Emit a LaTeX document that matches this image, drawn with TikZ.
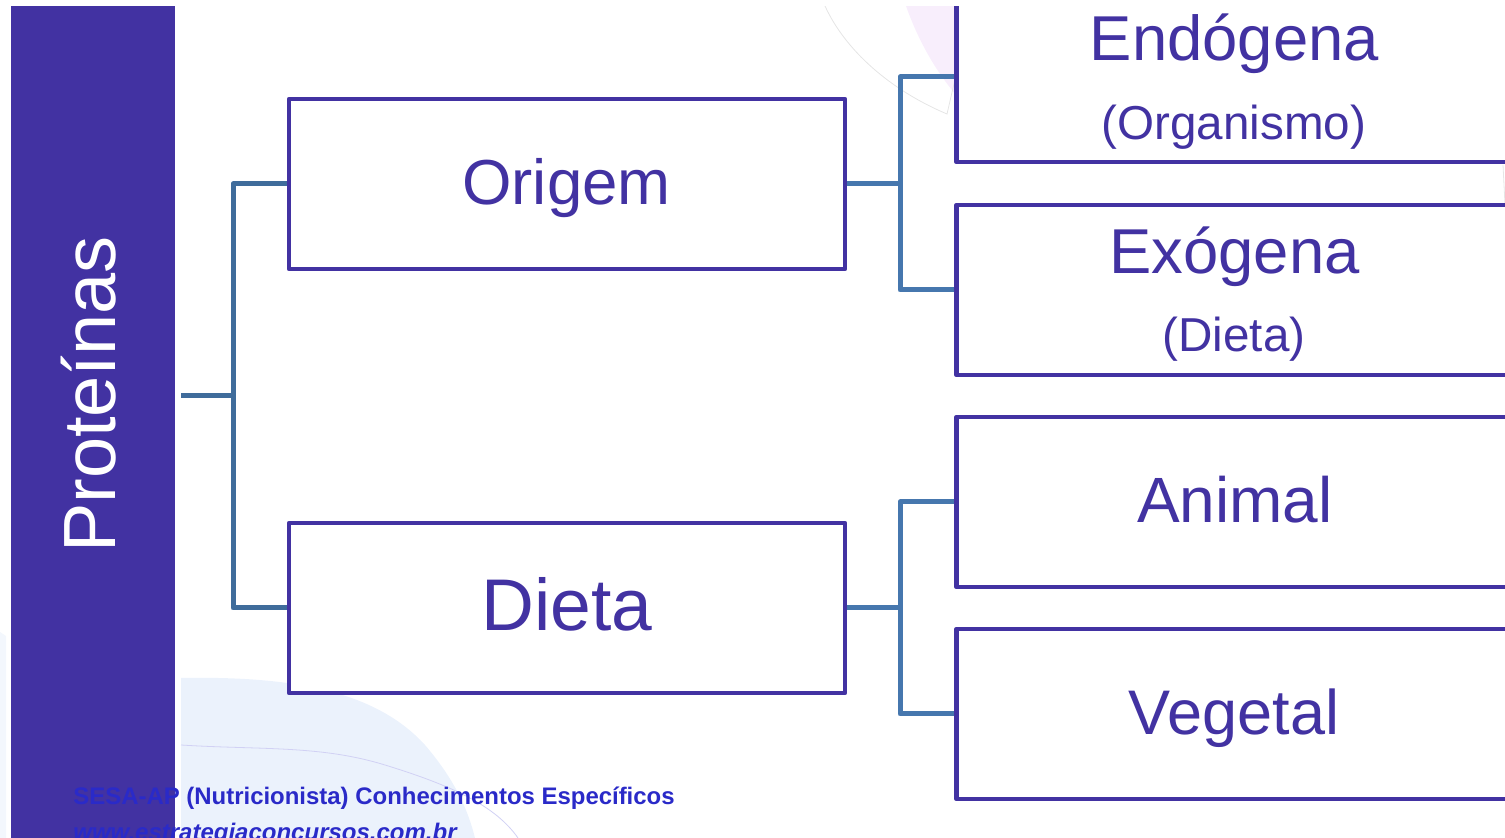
\documentclass[tikz,border=0pt]{standalone}
\usepackage{fontspec}
\setmainfont{Liberation Sans}
\definecolor{ink}{HTML}{4232A2}
\definecolor{busA}{HTML}{3F6C9B}
\definecolor{busB}{HTML}{4677AE}
\definecolor{foot}{HTML}{2A2AC8}
\definecolor{blob}{HTML}{EBF2FC}
\definecolor{blush}{HTML}{F8EEFC}
\tikzset{
  box/.style={draw=ink,line width=2.3pt,fill=white,minimum width=278pt,minimum height=85pt,inner sep=0pt,outer sep=0pt,line join=round,anchor=north west},
  lab/.style={text=ink,anchor=base,inner sep=0pt,outer sep=0pt},
  busa/.style={draw=busA,line width=2.5pt,line join=round,shorten <=1.2pt},
  busb/.style={draw=busB,line width=2.5pt,line join=round,shorten <=1.2pt},
  faint/.style={draw=black!10,line width=0.4pt},
}
\begin{document}
\begin{tikzpicture}[x=0.5pt,y=-0.5pt]
\useasboundingbox (0,0) rectangle (1505,838);
\clip (0,0) rectangle (1505,838);
% background shapes
\fill[blob] (181,678) .. controls (290,676) and (375,690) .. (425,745) .. controls (455,780) and (468,810) .. (475,838) -- (181,838) -- cycle;
\fill[blob!60] (0,632) -- (6,636) -- (6,838) -- (0,838) -- cycle;
\fill[blush] (906,6) .. controls (918,40) and (935,70) .. (956,95) -- (956,6) -- cycle;
\draw[faint] (825,6) .. controls (845,50) and (890,90) .. (947,114) -- (956,75);
\draw[faint] (1503,165) -- (1505,205);
\draw[draw=black!25!blue!18,line width=0.4pt] (181,745) .. controls (260,750) and (320,745) .. (385,765) .. controls (450,785) and (495,805) .. (518,838);
% side bar
\fill[ink] (11,6) rectangle (175,838);
\node[text=white,rotate=90,anchor=base,inner sep=0pt] (prot) at (115,394.5) {\fontsize{37pt}{40pt}\selectfont Proteínas};
\coordinate (stub) at (181,396);
\coordinate (jroot) at (233,396);
% boxes
\node[box] (origem) at (289,99) {};
\node[box] (dieta) at (289,523) {};
\node[box] (endo) at (956.5,-8) {};
\node[box] (exo) at (956.5,205) {};
\node[box] (animal) at (956.5,417) {};
\node[box] (vegetal) at (956.5,629) {};
% connectors
\draw[busa,shorten <=0pt] (stub) -- (jroot);
\draw[busa] (origem.west) -| (jroot);
\draw[busa] (dieta.west) -| (jroot);
\coordinate (ja) at (900,184);
\coordinate (jb) at (900,608);
\draw[busb] (origem.east) -- (ja);
\draw[busb] (endo.west) -| (ja);
\draw[busb] (exo.west) -| (ja);
\draw[busb] (dieta.east) -- (jb);
\draw[busb] (animal.west) -| (jb);
\draw[busb] (vegetal.west) -| (jb);
% labels
\node[lab] (torigem) at (566.5,205) {\fontsize{31.8pt}{36pt}\selectfont Origem};
\node[lab] (tdieta) at (567,631) {\fontsize{36.6pt}{40pt}\selectfont Dieta};
\node[lab] (tendo) at (1234.5,61) {\fontsize{31.7pt}{36pt}\selectfont Endógena};
\node[lab] (torg) at (1234,140) {\fontsize{23.8pt}{28pt}\selectfont (Organismo)};
\node[lab] (texo) at (1234.5,274) {\fontsize{31.7pt}{36pt}\selectfont Exógena};
\node[lab] (tdi) at (1234,352) {\fontsize{23.8pt}{28pt}\selectfont (Dieta)};
\node[lab] (tani) at (1235,522.5) {\fontsize{32pt}{36pt}\selectfont Animal};
\node[lab] (tveg) at (1234,734.5) {\fontsize{31.5pt}{36pt}\selectfont Vegetal};
% footer
\node[text=foot,anchor=base west,inner sep=0pt] (f1) at (73,805) {\fontsize{11.97pt}{14pt}\selectfont\bfseries SESA-AP (Nutricionista) Conhecimentos Específicos};
\node[text=foot,anchor=base west,inner sep=0pt] (f2) at (73,841) {\fontsize{12pt}{14pt}\selectfont\bfseries\itshape www.estrategiaconcursos.com.br};
% top strip
\fill[white] (0,0) rectangle (1505,6);
\end{tikzpicture}
\end{document}
